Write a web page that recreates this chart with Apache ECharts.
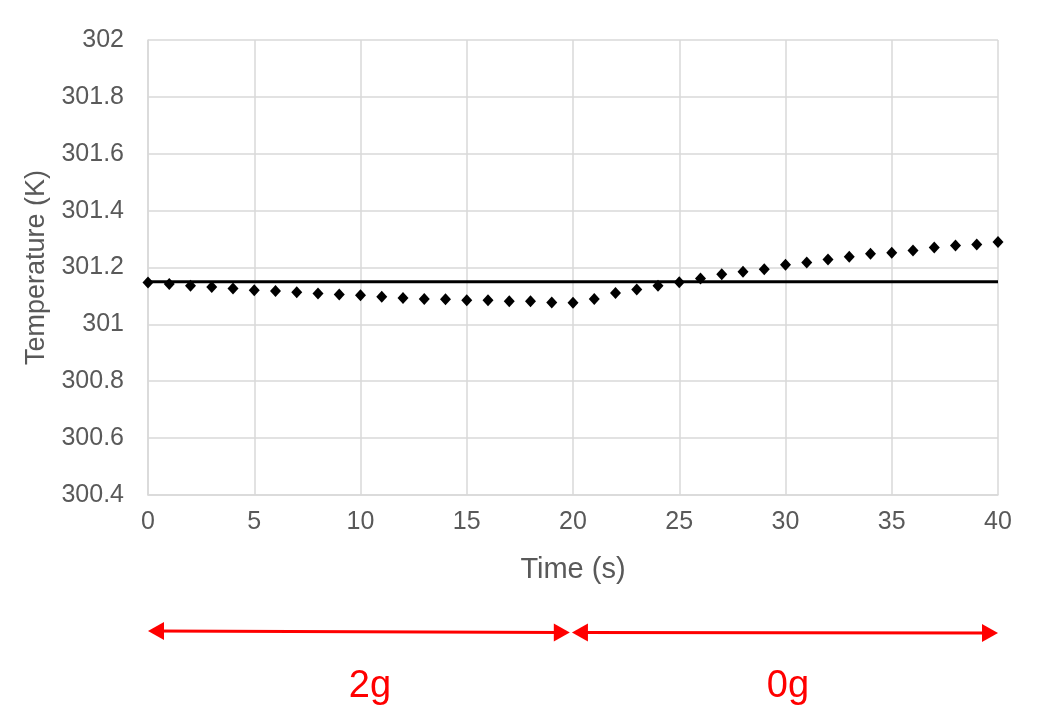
<!DOCTYPE html>
<html>
<head>
<meta charset="utf-8">
<script src="https://cdn.jsdelivr.net/npm/echarts@6/dist/echarts.min.js"></script>
<style>
  html, body { margin: 0; padding: 0; background: #fff; }
  #chart { width: 1041px; height: 714px; }
</style>
</head>
<body>
<div id="chart"></div>
<script>
// Time samples (s) and measured temperature (K)
const timeSec = [0,1,2,3,4,5,6,7,8,9,10,11,12,13,14,15,16,17,18,19,20,
                 21,22,23,24,25,26,27,28,29,30,31,32,33,34,35,36,37,38,39,40];
const temperatureK = [301.147,301.142,301.136,301.131,301.126,301.120,301.117,301.113,301.109,301.105,301.102,
                      301.097,301.093,301.089,301.088,301.085,301.085,301.081,301.081,301.077,301.076,
                      301.089,301.110,301.123,301.136,301.148,301.161,301.176,301.185,301.194,301.210,
                      301.218,301.228,301.238,301.248,301.252,301.260,301.270,301.277,301.281,301.290];
// Reference temperature (horizontal line)
const referenceK = 301.15;
// Gravity phases along the time axis (s)
const phaseLabels = ['2g', '0g'];
const phaseStart = [0, 19.95];
const phaseEnd = [19.85, 40];

const FONT = 'Liberation Sans, Arial, sans-serif';
const chart = echarts.init(document.getElementById('chart'), null, { renderer: 'canvas' });

chart.setOption({
  animation: false,
  backgroundColor: '#ffffff',
  grid: { left: 148, right: 43, top: 40, bottom: 219 },
  xAxis: {
    type: 'value', min: 0, max: 40, interval: 5,
    name: 'Time (s)', nameLocation: 'middle', nameGap: 60,
    nameTextStyle: { color: '#595959', fontSize: 29, fontFamily: FONT },
    axisLine: { show: true, lineStyle: { color: '#d9d9d9', width: 1.5 } },
    axisTick: { show: false },
    axisLabel: { color: '#595959', fontSize: 25, fontFamily: FONT, margin: 15 },
    splitLine: { show: true, lineStyle: { color: '#d9d9d9', width: 1.5 } }
  },
  yAxis: {
    type: 'value', min: 300.4, max: 302, interval: 0.2,
    name: 'Temperature (K)', nameLocation: 'middle', nameGap: 94, nameRotate: 90,
    nameTextStyle: { color: '#595959', fontSize: 27, fontFamily: FONT },
    axisLine: { show: true, lineStyle: { color: '#d9d9d9', width: 1.5 } },
    axisTick: { show: false },
    axisLabel: {
      color: '#595959', fontSize: 25, fontFamily: FONT, margin: 24,
      formatter: v => String(Math.round(v * 10) / 10)
    },
    splitLine: { show: true, lineStyle: { color: '#d9d9d9', width: 1.5 } }
  },
  series: [
    {
      type: 'line',
      data: [[0, referenceK], [40, referenceK]],
      symbol: 'none',
      lineStyle: { color: '#000000', width: 3 },
      z: 2
    },
    {
      type: 'scatter',
      data: timeSec.map((t, i) => [t, temperatureK[i]]),
      symbol: 'diamond',
      symbolSize: [11, 12],
      itemStyle: { color: '#000000', opacity: 1 },
      z: 3
    }
  ]
});

// Phase arrows and labels below the chart, positioned through the x axis scale
const labelShiftPx = [11, 3];
function arrowHead(x, y, dir) {
  const w = 16, h = 9;
  return {
    type: 'polygon',
    shape: { points: [[x, y], [x - dir * w, y - h], [x - dir * w, y + h]] },
    style: { fill: '#ff0000' }
  };
}
const graphics = [];
phaseLabels.forEach((label, i) => {
  const x1 = chart.convertToPixel({ xAxisIndex: 0 }, phaseStart[i]);
  const x2 = chart.convertToPixel({ xAxisIndex: 0 }, phaseEnd[i]);
  const yL = 631 + i * 1.5, yR = 632.5 + i * 0.5;
  graphics.push({
    type: 'line',
    shape: { x1: x1 + 8, y1: yL, x2: x2 - 8, y2: yR },
    style: { stroke: '#ff0000', lineWidth: 3 }
  });
  graphics.push(arrowHead(x1, yL, -1));
  graphics.push(arrowHead(x2, yR, 1));
  graphics.push({
    type: 'text',
    x: (x1 + x2) / 2 + labelShiftPx[i], y: 687,
    style: {
      text: label, fill: '#ff0000', fontSize: 38, fontFamily: FONT,
      align: 'center', verticalAlign: 'middle'
    }
  });
});
chart.setOption({ graphic: graphics });
</script>
</body>
</html>
